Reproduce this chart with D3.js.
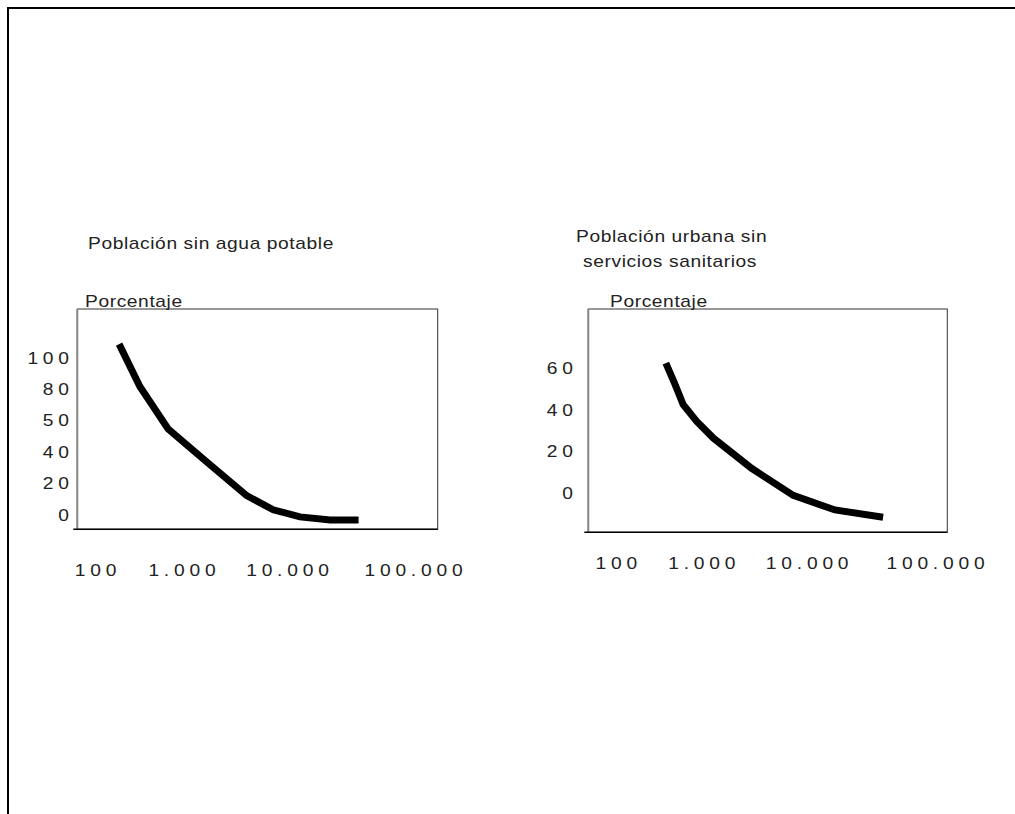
<!DOCTYPE html>
<meta charset="utf-8">
<style>
  body { margin: 0; background: #fff; }
  svg { display: block; }
</style>
<script src="https://cdn.jsdelivr.net/npm/d3@7"></script>
<svg></svg>

<script>
// ---- values ----
var xTickValues = [100, 1000, 10000, 100000];
var xTickLabels = ["100", "1.000", "10.000", "100.000"];
var yAxisName = "Porcentaje";

// left panel
var aguaTitle = ["Población sin agua potable"];
var aguaYTicks = [0, 20, 40, 60, 80, 100];
var aguaYLabels = ["0", "20", "40", "50", "80", "100"];
var aguaIngreso = [190, 330, 700, 1700, 4150, 7400, 12700, 22000, 37000];
var aguaPct = [112, 85, 58, 37.5, 15.5, 6.5, 2, 0, 0];

// right panel
var saniTitle = ["Población urbana sin", "servicios sanitarios"];
var saniYTicks = [0, 20, 40, 60];
var saniYLabels = ["0", "20", "40", "60"];
var saniIngreso = [385, 490, 615, 885, 1300, 3000, 7450, 16600, 39400];
var saniPct = [65, 55, 45, 37, 29, 14.5, 1.5, -5.5, -9];
</script>

<script>
var W = 1015, H = 814;
var SX = 1.2;          // the lettering is stretched sideways
var LS_TXT = 0.5;      // slight tracking on words
var LS = 4;            // wide tracking on the digits
var FONT = "'Liberation Sans', Arial, sans-serif";
var INK = "#222";

var svg = d3.select("svg")
            .attr("width", W)
            .attr("height", H);

// page frame, only left and top edges show
svg.append("path")
   .attr("d", "M8," + H + "V8H" + W)
   .attr("fill", "none")
   .attr("stroke", "#000")
   .attr("stroke-width", 2);

function stretchText(sel, x, y, str){
	return sel.append("text")
	          .attr("transform", "translate(" + x + "," + y + ") scale(" + SX + ",1)")
	          .attr("font-family", FONT)
	          .attr("font-size", 16)
	          .attr("fill", INK)
	          .style("letter-spacing", LS_TXT + "px")
	          .text(str);
}

function drawChart(o){
	var g = svg.append("g");

	var x = d3.scaleLog().domain(xTickValues).range(o.xRange);
	var y = d3.scaleLinear().domain(o.yDomain).range(o.yRange);

	o.title.forEach(function(t, i){
		stretchText(g, o.titleX[i], o.titleY + i * 25, t);
	});
	stretchText(g, o.nameX, o.nameY, yAxisName);

	var b = o.box; // [left, top, right, bottom]
	g.append("rect")
	 .attr("x", b[0]).attr("y", b[1])
	 .attr("width", b[2] - b[0]).attr("height", b[3] - b[1])
	 .attr("fill", "none")
	 .attr("stroke", "#333")
	 .attr("stroke-width", 1);

	// left edge is grey and a bit heavier
	g.append("line")
	 .attr("x1", b[0]).attr("x2", b[0])
	 .attr("y1", b[1]).attr("y2", b[3])
	 .attr("stroke", "#8a8a8a")
	 .attr("stroke-width", 2);

	// bottom edge pokes out to the left
	g.append("line")
	 .attr("x1", b[0] - 4).attr("x2", b[2])
	 .attr("y1", b[3]).attr("y2", b[3])
	 .attr("stroke", "#000")
	 .attr("stroke-width", 1.5);

	// x labels
	var xa = g.append("g")
	          .attr("transform", "translate(0," + o.xLabelY + ")")
	          .call(d3.axisBottom(x)
	                  .tickValues(xTickValues)
	                  .tickFormat(function(d){ return xTickLabels[xTickValues.indexOf(d)]; })
	                  .tickSize(0)
	                  .tickPadding(0));
	xa.select(".domain").remove();
	xa.attr("font-family", FONT).attr("font-size", 16);
	xa.selectAll("text")
	  .attr("fill", INK)
	  .attr("y", 0)
	  .attr("dy", 0)
	  .attr("dx", LS / 2)
	  .attr("transform", "scale(" + SX + ",1)")
	  .style("letter-spacing", LS + "px");

	// y labels
	var ya = g.append("g")
	          .attr("transform", "translate(" + b[0] + ",0)")
	          .call(d3.axisLeft(y)
	                  .tickValues(o.yTicks)
	                  .tickFormat(function(d){ return o.yLabels[o.yTicks.indexOf(d)]; })
	                  .tickSize(0)
	                  .tickPadding(0));
	ya.select(".domain").remove();
	ya.attr("font-family", FONT).attr("font-size", 16);
	ya.selectAll("text")
	  .attr("fill", INK)
	  .attr("x", -o.yLabelGap / SX)
	  .attr("dy", 0)
	  .attr("transform", "scale(" + SX + ",1)")
	  .style("letter-spacing", LS + "px");

	// the curve
	var line = d3.line()
	             .x(function(d){ return x(d[0]); })
	             .y(function(d){ return y(d[1]); });

	g.append("path")
	 .datum(d3.zip(o.xs, o.ys))
	 .attr("d", line)
	 .attr("fill", "none")
	 .attr("stroke", "#000")
	 .attr("stroke-width", 7)
	 .attr("stroke-linecap", "butt");
}

drawChart({
	title: aguaTitle, titleX: [88], titleY: 249,
	nameX: 85, nameY: 307,
	box: [77.3, 309, 437.7, 529.3],
	xRange: [95, 181.5, 287, 413], xLabelY: 575.5,
	yDomain: [0, 100], yRange: [520, 363],
	yTicks: aguaYTicks, yLabels: aguaYLabels, yLabelGap: 3.5,
	xs: aguaIngreso, ys: aguaPct
});

drawChart({
	title: saniTitle, titleX: [576, 583], titleY: 241.7,
	nameX: 610, nameY: 307,
	box: [588.3, 309, 947.3, 532.3],
	xRange: [615.8, 701.3, 806.7, 935], xLabelY: 568.5,
	yDomain: [0, 60], yRange: [498.5, 373.5],
	yTicks: saniYTicks, yLabels: saniYLabels, yLabelGap: 10.5,
	xs: saniIngreso, ys: saniPct
});
</script>
